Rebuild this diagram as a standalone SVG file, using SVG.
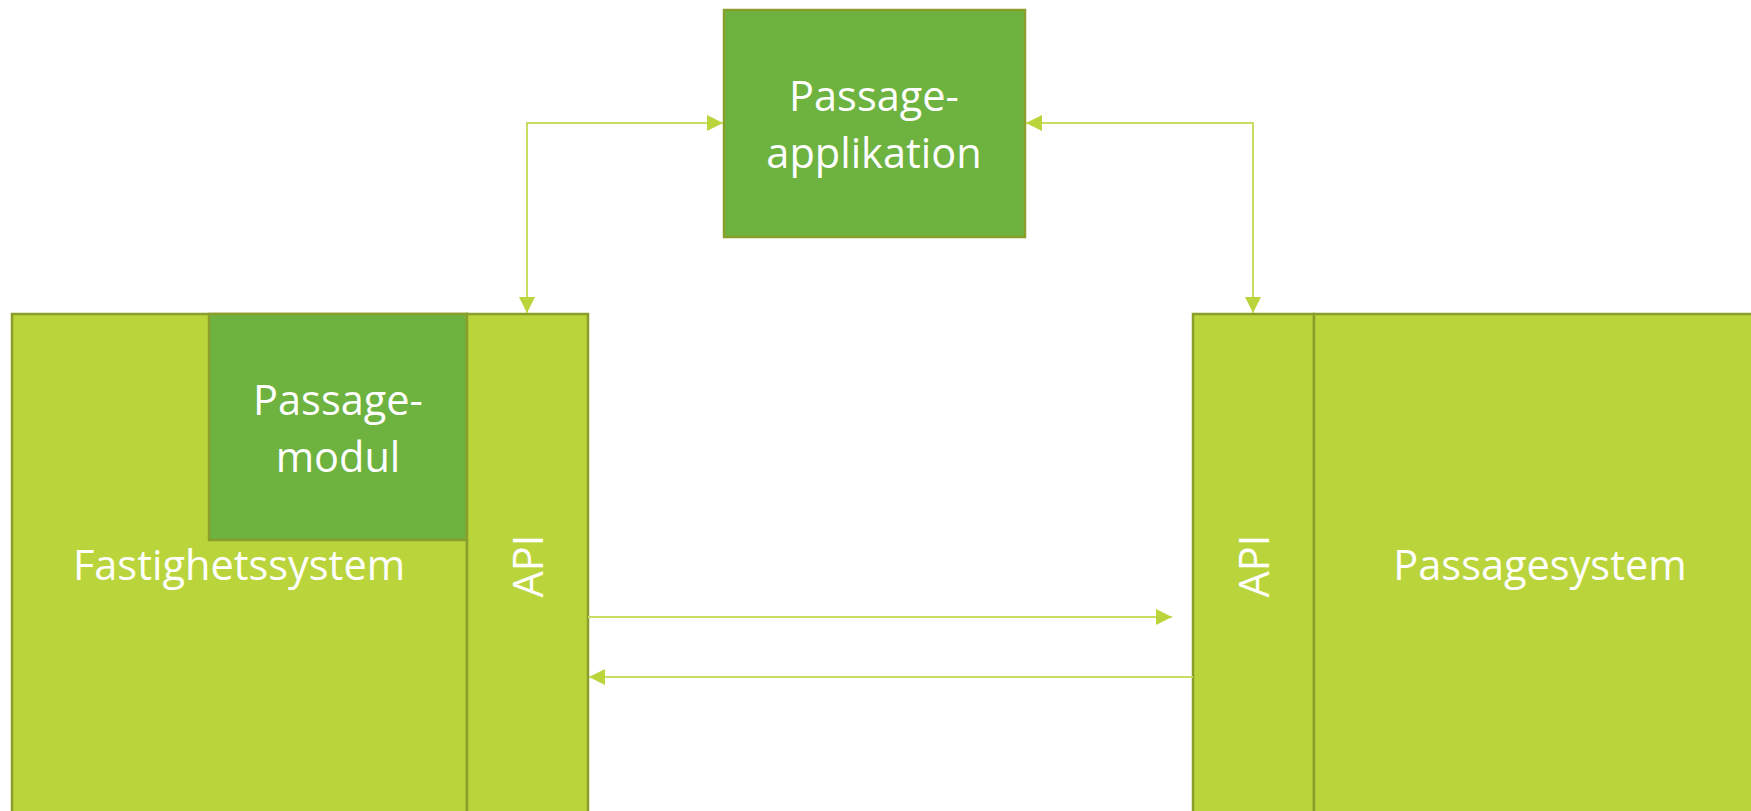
<svg xmlns="http://www.w3.org/2000/svg" width="1751" height="811" viewBox="0 0 1751 811">
<style>
.lime{fill:#BAD53C;stroke:#8A9E2C;stroke-width:2.5}
.dark{fill:#6EB23F;stroke:#8A9E2C;stroke-width:2.5}
.t{font-family:"Open Sans","Liberation Sans",sans-serif;font-size:41.5px;fill:#FFFFFF;text-anchor:middle}
.c{fill:none;stroke:#C6DE62;stroke-width:2}
</style>
<defs>
<marker id="ah" viewBox="0 0 16 16" refX="16" refY="8" markerWidth="16" markerHeight="16" markerUnits="userSpaceOnUse" orient="auto-start-reverse">
<path d="M0,0 L16,8 L0,16 Z" fill="#BAD53C"/>
</marker>
</defs>
<g id="fastighetssystem">
<rect class="lime" x="12" y="314" width="455" height="510"/>
<text class="t" x="239" y="580">Fastighetssystem</text>
</g>
<g id="passagemodul">
<rect class="dark" x="209" y="314" width="258" height="226"/>
<text class="t" x="338" y="415">Passage-</text>
<text class="t" x="338" y="472">modul</text>
</g>
<g id="api-left">
<rect class="lime" x="467" y="314" width="121" height="510"/>
<text class="t" transform="translate(543,566) rotate(-90)">API</text>
</g>
<g id="api-right">
<rect class="lime" x="1193" y="314" width="121" height="510"/>
<text class="t" transform="translate(1269,566) rotate(-90)">API</text>
</g>
<g id="passagesystem">
<rect class="lime" x="1314" y="314" width="460" height="510"/>
<text class="t" x="1540" y="580">Passagesystem</text>
</g>
<g id="passageapplikation">
<rect class="dark" x="724" y="10" width="301" height="227"/>
<text class="t" x="874" y="111">Passage-</text>
<text class="t" x="874" y="168">applikation</text>
</g>
<g id="connectors">
<path class="c" d="M527,313 V123 H723" marker-start="url(#ah)" marker-end="url(#ah)"/>
<path class="c" d="M1253,313 V123 H1026" marker-start="url(#ah)" marker-end="url(#ah)"/>
<path class="c" d="M588,617 H1172" marker-end="url(#ah)"/>
<path class="c" d="M1193,677 H589" marker-end="url(#ah)"/>
</g>
</svg>
